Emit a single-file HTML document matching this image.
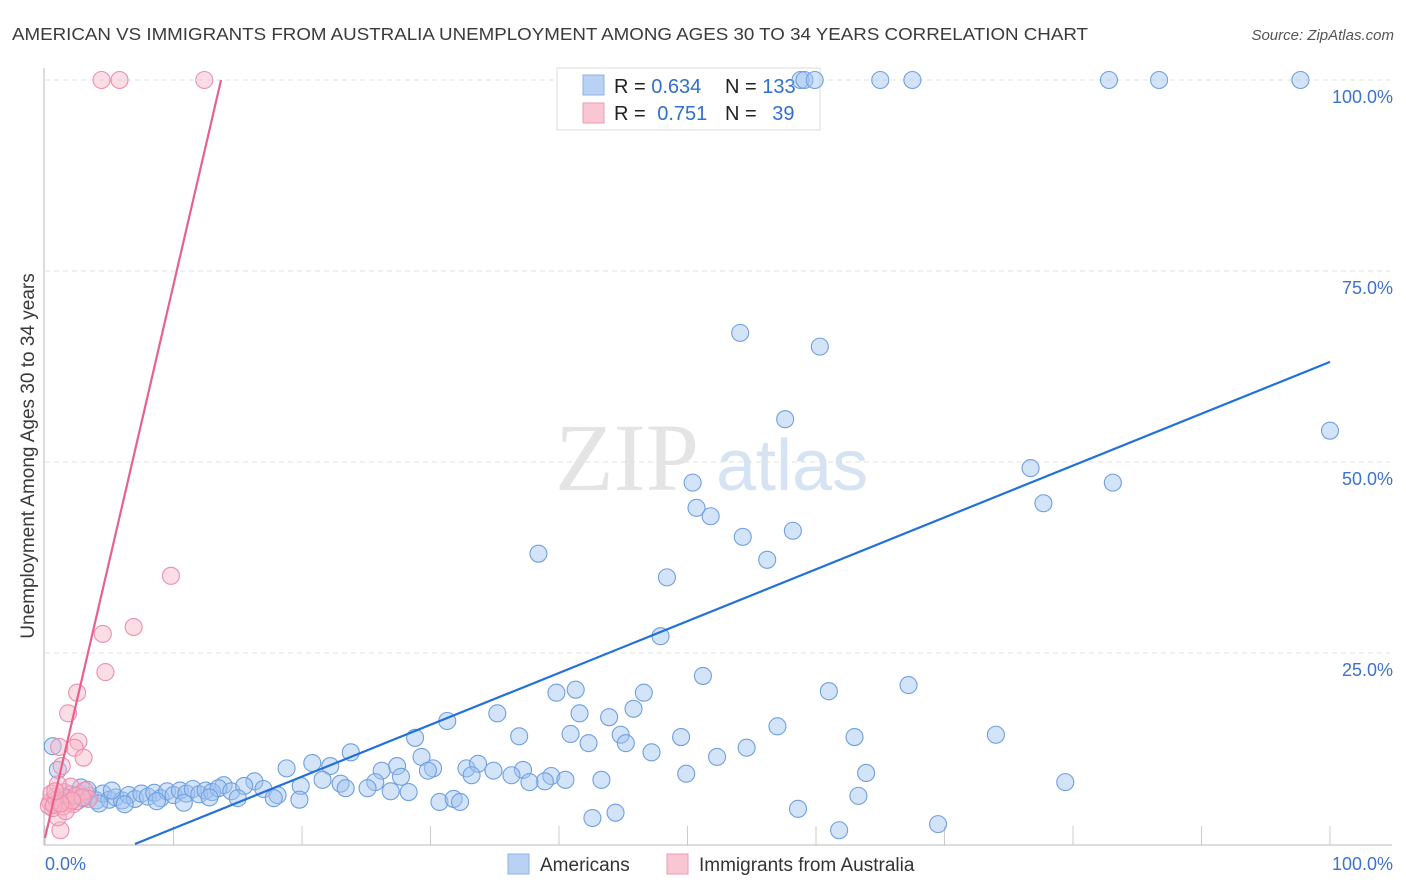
<!DOCTYPE html>
<html><head><meta charset="utf-8"><style>
body{margin:0;background:#fff;font-family:"Liberation Sans",sans-serif;}
svg{display:block}
</style></head><body>
<svg id="chart" width="1406" height="892">
<text x="12" y="40" font-size="17.5" fill="#3a3a3a" textLength="1076" lengthAdjust="spacingAndGlyphs">AMERICAN VS IMMIGRANTS FROM AUSTRALIA UNEMPLOYMENT AMONG AGES 30 TO 34 YEARS CORRELATION CHART</text>
<text x="1394" y="40" font-size="15" fill="#555" font-style="italic" text-anchor="end">Source: ZipAtlas.com</text>
<text x="555" y="490" font-size="96" fill="#e4e4e4" font-family="Liberation Serif,serif">ZIP</text>
<text x="716" y="490" font-size="72" fill="#d6e3f3">atlas</text>
<text transform="translate(34,456) rotate(-90)" font-size="19" fill="#3a3a3a" text-anchor="middle">Unemployment Among Ages 30 to 34 years</text>
<g id="grid"></g>
<g>
<rect x="557" y="68" width="263" height="62" fill="#fff" stroke="#ddd"/>
<rect x="583" y="75" width="21" height="20" fill="#b9d1f2" stroke="#8fb3e6"/>
<rect x="583" y="103" width="21" height="20" fill="#f9c6d4" stroke="#ef9ab3"/>
<text x="614" y="93" font-size="20" fill="#222">R = <tspan fill="#2f6fd0">0.634</tspan></text>
<text x="725" y="93" font-size="20" fill="#222">N = <tspan fill="#2f6fd0">133</tspan></text>
<text x="614" y="120" font-size="20" fill="#222">R = <tspan fill="#2f6fd0" dx="6">0.751</tspan></text>
<text x="725" y="120" font-size="20" fill="#222">N = <tspan fill="#2f6fd0" dx="10">39</tspan></text>
</g>
<g id="marks"></g>
<g>
<rect x="508" y="854" width="21" height="20" fill="#b9d1f2" stroke="#8fb3e6"/>
<text x="540" y="871" font-size="19" fill="#333">Americans</text>
<rect x="667" y="854" width="21" height="20" fill="#f9c6d4" stroke="#ef9ab3"/>
<text x="699" y="871" font-size="19" fill="#333">Immigrants from Australia</text>
</g>
</svg>
<script>
const yTicks=[25,50,75,100];
const yTickLabels=["25.0%","50.0%","75.0%","100.0%"];
const xTickLabels=["0.0%","100.0%"];
const blueX=[58.8,59.1,59.9,65.0,67.5,82.8,86.7,97.7,54.1,60.3,57.6,100,76.7,83.1,50.4,77.7,50.7,51.8,58.2,54.3,38.4,56.2,48.4,47.9,51.2,67.2,61.0,41.3,39.8,46.6,35.2,41.6,43.9,45.8,31.3,57.0,40.9,44.8,74.0,63.0,49.5,36.9,28.8,42.3,45.2,54.6,47.2,23.8,52.3,29.3,22.2,20.8,27.4,30.2,32.8,33.7,34.9,37.2,18.8,26.2,29.8,36.3,39.4,63.9,49.9,33.2,27.7,43.3,40.5,38.9,37.7,79.4,25.7,21.6,16.3,13.9,23.0,19.9,23.4,25.1,17.0,26.9,28.3,18.1,63.3,30.7,31.8,32.3,17.8,19.8,58.6,44.4,42.6,61.8,69.5,0.6,1.0,1.5,2.0,2.5,3.0,3.5,4.0,4.5,5.0,5.5,6.0,6.5,7.0,7.5,8.0,8.5,9.0,9.5,10.0,10.5,11.0,11.5,12.0,12.5,13.0,13.5,14.5,15.5,2.8,4.2,6.2,8.7,10.8,12.8,15.0,3.3,5.2];
const blueY=[100,100,100,100,100,100,100,100,66.9,65.1,55.6,54.1,49.2,47.3,47.3,44.6,44.0,42.9,41.0,40.2,38.0,37.2,34.9,27.2,22.0,20.8,20.0,20.2,19.8,19.8,17.1,17.1,16.6,17.7,16.1,15.4,14.4,14.3,14.3,14.0,14.0,14.1,13.9,13.2,13.2,12.6,12.0,12.0,11.4,11.4,10.2,10.6,10.2,9.9,9.9,10.5,9.6,9.7,9.9,9.6,9.6,9.0,8.9,9.3,9.2,9.0,8.8,8.4,8.4,8.2,8.1,8.1,8.1,8.4,8.2,7.7,7.9,7.6,7.3,7.3,7.2,6.9,6.8,6.4,6.3,5.5,5.9,5.5,6.0,5.8,4.6,4.1,3.4,1.8,2.6,12.8,9.7,6.2,6.5,5.6,6.0,6.3,5.7,6.6,5.8,6.1,5.7,6.4,5.9,6.6,6.2,6.7,6.0,6.9,6.4,7.0,6.6,7.2,6.5,7.0,6.8,7.3,6.9,7.6,7.4,5.3,5.2,5.6,5.4,6.1,6.0,7.1,7.0,6.3];
const pinkX=[4.4,5.8,12.4,9.8,6.9,4.5,4.7,2.5,1.8,2.6,2.3,1.1,3.0,1.3,1.2,1.0,0.6,0.4,0.8,1.5,2.0,0.3,0.9,1.7,2.2,2.7,3.1,0.5,1.4,1.9,2.4,3.4,1.0,0.7,1.6,2.9,2.1,1.2,0.8];
const pinkY=[100,100,100,35.1,28.4,27.5,22.5,19.8,17.1,13.4,12.6,12.7,11.3,10.2,1.8,3.5,4.7,5.5,6.2,6.8,7.5,5.0,5.8,6.0,5.2,6.5,7.0,6.6,4.9,5.4,6.3,5.9,7.8,5.1,4.3,6.1,5.7,5.3,6.9];
const blueLine=[7.0,0,100,63.1];
const pinkLine=[0,0.8,13.7,100];
const X=v=>45+v*12.85, Y=v=>844-v*7.64;
const NS="http://www.w3.org/2000/svg";
function mk(t,a,p){const e=document.createElementNS(NS,t);for(const k in a)e.setAttribute(k,a[k]);p.appendChild(e);return e;}
const grid=document.getElementById('grid'),marks=document.getElementById('marks');
yTicks.forEach((t,i)=>{
 const l=mk('line',{x1:45,x2:1390,y1:Y(t),y2:Y(t),stroke:'#e2e2e2','stroke-dasharray':'5,4'},grid);
 
 
 const tx=mk('text',{x:1393,y:Y(t)+23,'font-size':18,fill:'#3d72cc','text-anchor':'end'},grid);
 tx.textContent=yTickLabels[i];
 
 
});
for(let i=0;i<=10;i++){
 const t=mk('line',{x1:X(i*10),x2:X(i*10),y1:826,y2:845,stroke:'#ccc'},grid);
 
 
}
const ax=mk('line',{x1:44,x2:44,y1:68,y2:845,stroke:'#bbb'},grid);


const bx=mk('line',{x1:44,x2:1392,y1:845,y2:845,stroke:'#bbb'},grid);


[[X(0),'start'],[X(100)+63,'end']].forEach((p,i)=>{
 const tx=mk('text',{x:p[0],y:870,'font-size':18,fill:'#3d72cc','text-anchor':p[1]},grid);
 tx.textContent=xTickLabels[i];
 
 
});
blueX.forEach((v,i)=>{
 const c=mk('circle',{cx:X(v),cy:Y(blueY[i]),r:8.5,fill:'rgba(160,195,240,0.45)',stroke:'#6f9fe0','stroke-width':1.1},marks);
 
 
});
pinkX.forEach((v,i)=>{
 const c=mk('circle',{cx:X(v),cy:Y(pinkY[i]),r:8.5,fill:'rgba(247,180,200,0.45)',stroke:'#ee8fac','stroke-width':1.1},marks);
 
 
});
const bl=mk('line',{x1:X(blueLine[0]),y1:Y(blueLine[1]),x2:X(blueLine[2]),y2:Y(blueLine[3]),stroke:'#2270d8','stroke-width':2.2},marks);


const pl=mk('line',{x1:X(pinkLine[0]),y1:Y(pinkLine[1]),x2:X(pinkLine[2]),y2:Y(pinkLine[3]),stroke:'#e8618c','stroke-width':2.2},marks);


</script>
</body></html>
